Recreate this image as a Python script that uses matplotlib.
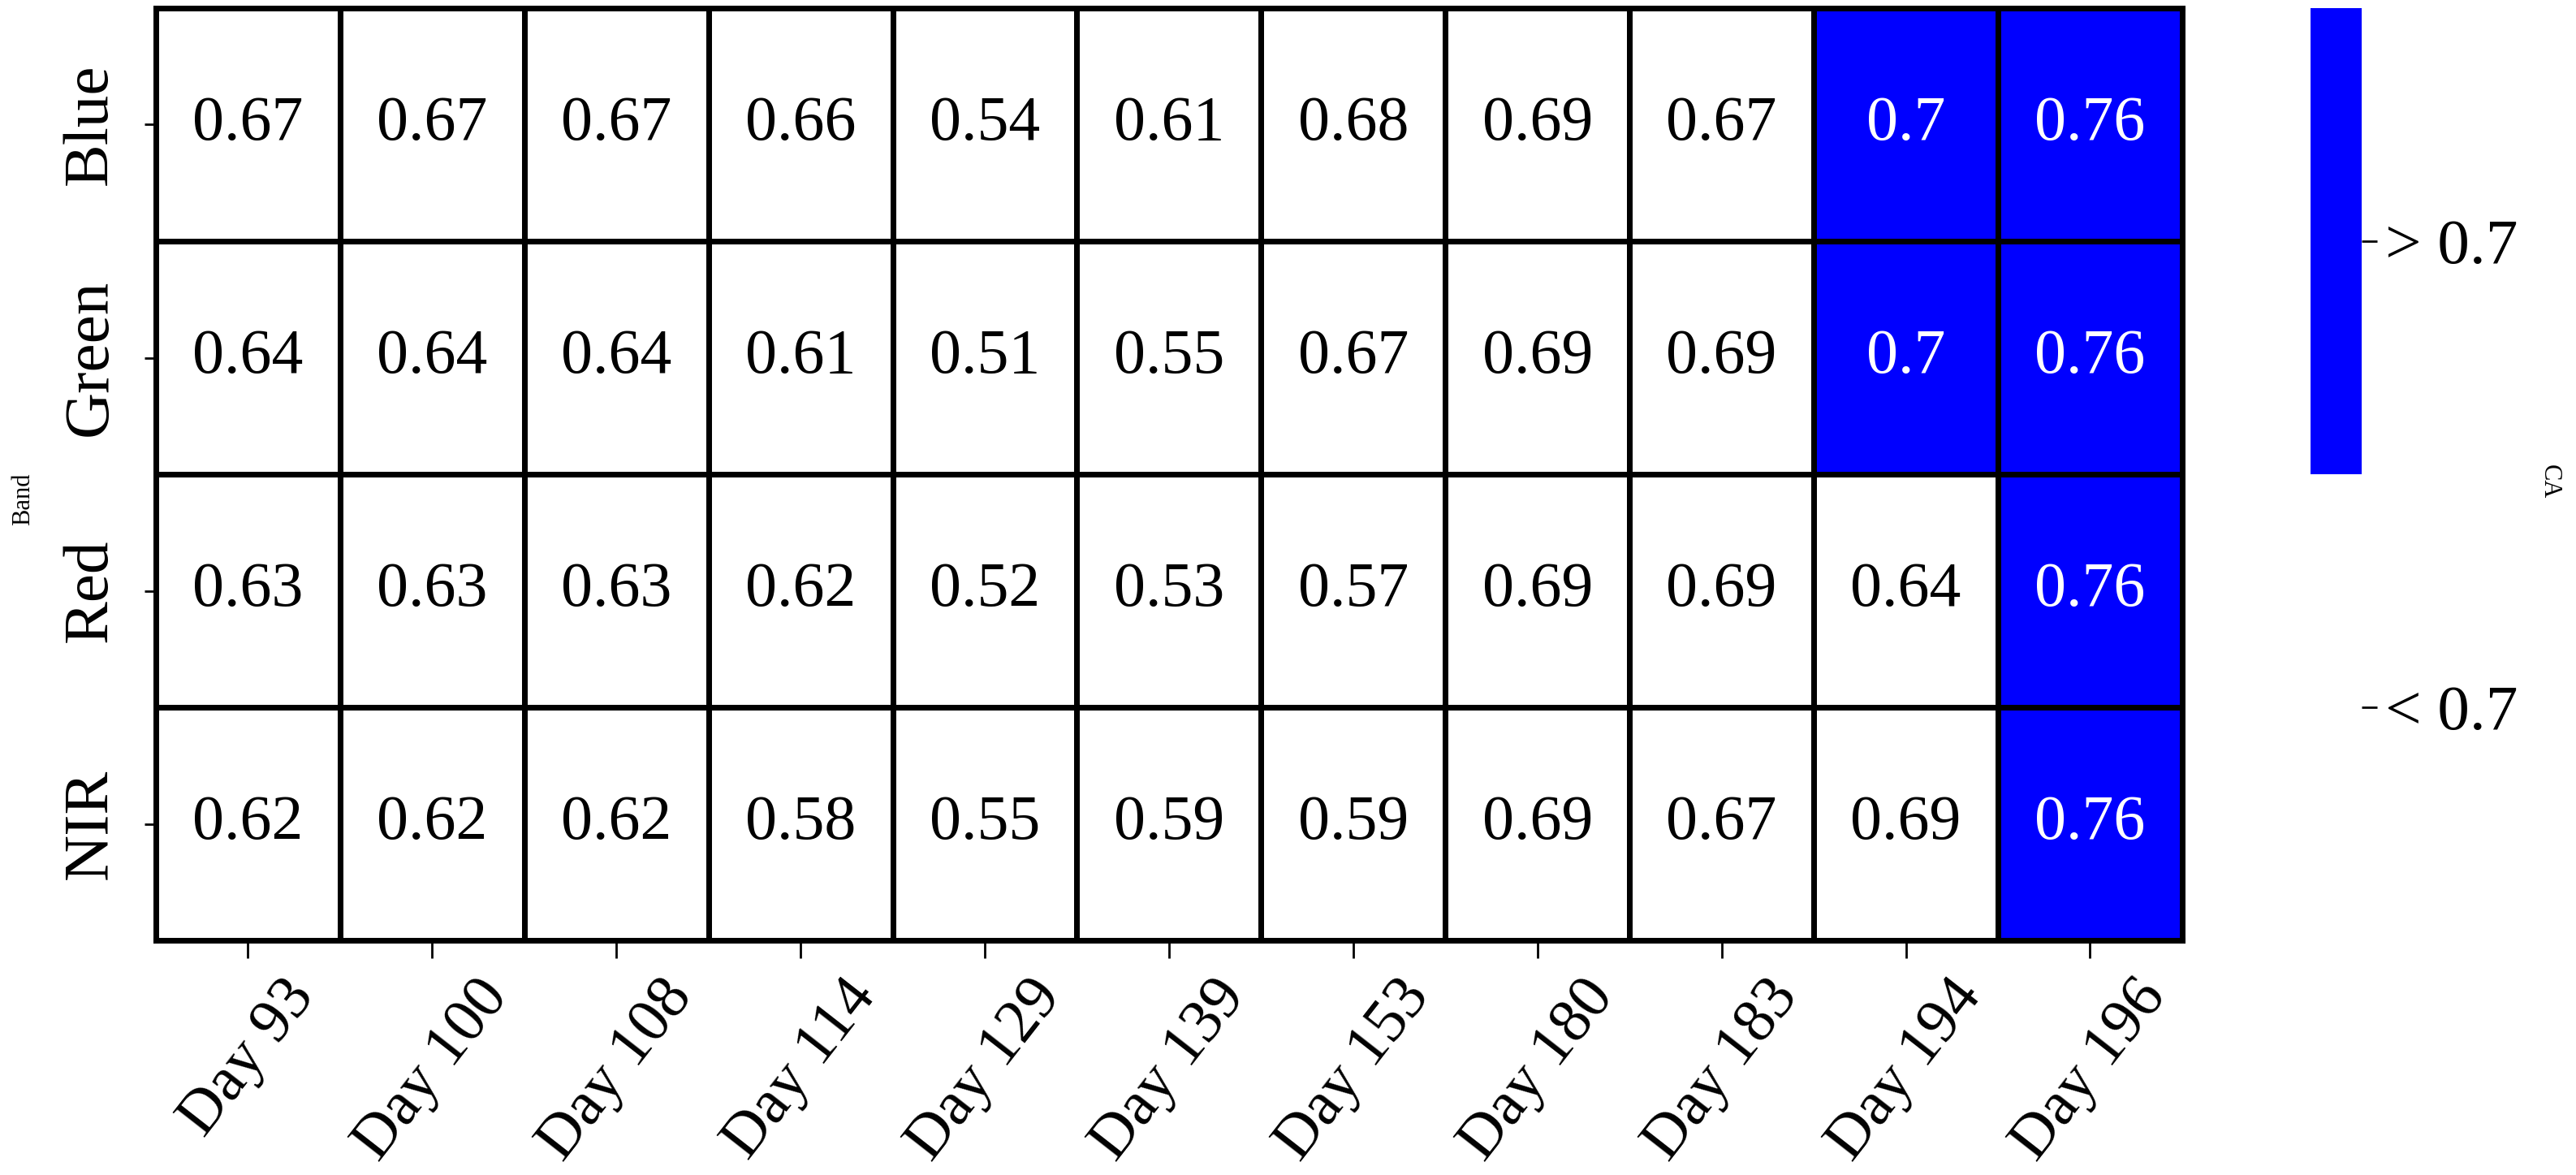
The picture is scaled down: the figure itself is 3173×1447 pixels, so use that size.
import numpy as np
import matplotlib
matplotlib.use("Agg")
import matplotlib.pyplot as plt
from matplotlib.colors import ListedColormap, BoundaryNorm
import seaborn as sns

plt.rcParams['font.family'] = ['Liberation Serif', 'DejaVu Serif']

days = ['Day 93', 'Day 100', 'Day 108', 'Day 114', 'Day 129', 'Day 139',
        'Day 153', 'Day 180', 'Day 183', 'Day 194', 'Day 196']
bands = ['Blue', 'Green', 'Red', 'NIR']

blue = [0.67, 0.67, 0.67, 0.66, 0.54, 0.61, 0.68, 0.69, 0.67, 0.70, 0.76]
green = [0.64, 0.64, 0.64, 0.61, 0.51, 0.55, 0.67, 0.69, 0.69, 0.70, 0.76]
red = [0.63, 0.63, 0.63, 0.62, 0.52, 0.53, 0.57, 0.69, 0.69, 0.64, 0.76]
nir = [0.62, 0.62, 0.62, 0.58, 0.55, 0.59, 0.59, 0.69, 0.67, 0.69, 0.76]

threshold = 0.7

vals = np.array([blue, green, red, nir])
cls = (vals >= threshold).astype(int)
labels = np.array([[f'{v:g}' for v in row] for row in vals])

cmap = ListedColormap(['white', 'blue'])
norm = BoundaryNorm([-0.5, 0.5, 1.5], cmap.N)

fig = plt.figure(figsize=(31.73, 14.47), dpi=100)
ax = fig.add_axes([0.0605, 0.1997, 0.7866, 0.7934])
cax = fig.add_axes([0.897, 0.1997, 0.0199, 0.7934])

sns.heatmap(cls, ax=ax, cbar_ax=cax, cmap=cmap, norm=norm,
            annot=labels, fmt='', linewidths=5, linecolor='black',
            annot_kws={'fontsize': 56},
            xticklabels=days, yticklabels=bands)

# white text on blue cells
for t, c in zip(ax.texts, cls.ravel()):
    t.set_color('white' if c else 'black')

ax.set_xticklabels(days, rotation=52, ha='center', fontsize=55)
ax.set_yticklabels(bands, rotation=90, va='center', fontsize=57)
ax.tick_params(axis='x', length=16, width=2, color='black', pad=10)
ax.tick_params(axis='y', length=10, width=2, color='black', pad=22)
ax.set_ylabel('')
fig.text(29 / 3173, 0.575, 'Band', fontsize=22, rotation=90, ha='center', va='center')

for s in ax.spines.values():
    s.set_visible(True)
    s.set_linewidth(5)
    s.set_color('black')

cbar = ax.collections[0].colorbar
cbar.set_ticks([1, 0])
cbar.set_ticklabels(['> 0.7', '< 0.7'])
cbar.ax.tick_params(labelsize=57, length=14, width=2, pad=7)
cbar.ax.minorticks_off()
cbar.outline.set_visible(False)
fig.text(3140 / 3173, 0.59, 'CA', fontsize=22, rotation=270, ha='center', va='center')

fig.savefig('out.png', dpi=100, facecolor='white')
